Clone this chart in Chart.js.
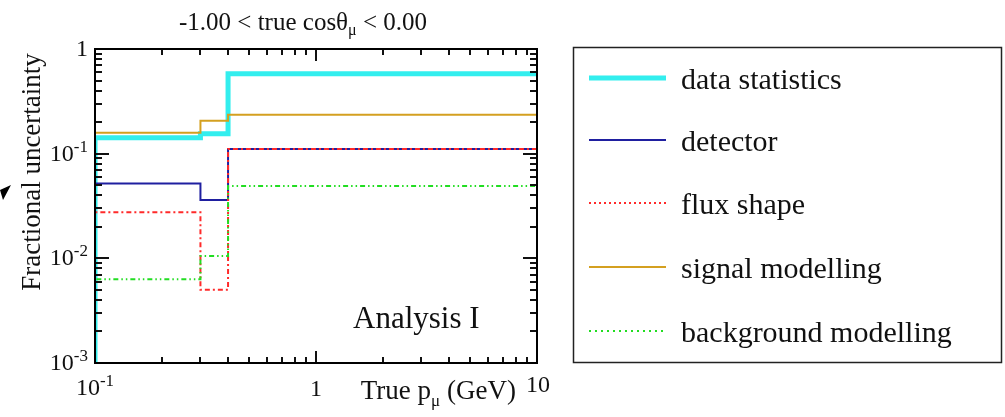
<!DOCTYPE html>
<html>
<head>
<meta charset="utf-8">
<script src="https://cdn.jsdelivr.net/npm/chart.js@4.4.0/dist/chart.umd.min.js"></script>
<style>
  html, body { margin: 0; padding: 0; background: #fff; }
  #chart { display: block; }
</style>
</head>
<body>
<canvas id="chart" width="1005" height="417"></canvas>
<script>
// bin edges in true muon momentum (GeV) and fractional uncertainty per bin
const binEdges = [0.1, 0.3, 0.4, 10];
const dataStatistics = [0.142, 0.155, 0.58];
const detector = [0.052, 0.036, 0.111];
const fluxShape = [0.0275, 0.005, 0.111];
const signalModelling = [0.158, 0.206, 0.236];
const backgroundModelling = [0.0063, 0.0105, 0.049];

const seriesLabels = ["data statistics", "detector", "flux shape", "signal modelling", "background modelling"];
const yTicks = [1, 0.1, 0.01, 0.001];
const xTicks = [0.1, 1, 10];

const serif = "'Liberation Serif', 'Times New Roman', serif";
const yMin = 0.001;

function steps(values) {
  let pts = [{ x: binEdges[0], y: yMin }];
  values.forEach((v, i) => pts.push({ x: binEdges[i], y: v }));
  pts.push({ x: binEdges[binEdges.length - 1], y: values[values.length - 1] });
  return pts;
}

// draw "10" with a superscript exponent
function drawPow(ctx, exp, x, y, align, size) {
  ctx.font = size + "px " + serif;
  let w1 = ctx.measureText("10").width;
  let small = Math.round(size * 0.7);
  ctx.font = small + "px " + serif;
  let w2 = ctx.measureText(exp).width;
  let total = w1 + w2;
  let left = x;
  if (align == "right") left = x - total;
  if (align == "center") left = x - total / 2;
  ctx.textAlign = "left";
  ctx.font = size + "px " + serif;
  ctx.fillText("10", left, y);
  ctx.font = small + "px " + serif;
  ctx.fillText(exp, left + w1, y - size * 0.38);
}

const decor = {
  id: "decor",
  afterDraw(chart) {
    const ctx = chart.ctx;
    const a = chart.chartArea;
    const xs = chart.scales.x, ys = chart.scales.y;
    ctx.save();
    ctx.setLineDash([]);
    ctx.globalAlpha = 1;
    ctx.fillStyle = "#111";
    ctx.strokeStyle = "#000";

    // ticks, inside on all four sides
    ctx.lineWidth = 2;
    for (let k = -3; k < 0; k++) {
      for (let m = 1; m <= 9; m++) {
        let py = Math.round(ys.getPixelForValue(m * Math.pow(10, k)));
        let len = m == 1 ? 14 : 7;
        ctx.fillRect(a.left, py - 1, len, 2);
        ctx.fillRect(a.right - len, py - 1, len, 2);
      }
    }
    for (let k = -1; k < 1; k++) {
      for (let m = 1; m <= 9; m++) {
        let px = Math.round(xs.getPixelForValue(m * Math.pow(10, k)));
        let len = m == 1 ? 12 : 6;
        ctx.fillRect(px - 1, a.bottom - len, 2, len);
        ctx.fillRect(px - 1, a.top, 2, len);
      }
    }

    // frame
    ctx.strokeRect(a.left, a.top, a.right - a.left, a.bottom - a.top);

    // y tick labels
    ctx.textBaseline = "alphabetic";
    yTicks.forEach(v => {
      let py = ys.getPixelForValue(v);
      if (v == 1) {
        ctx.font = "24px " + serif;
        ctx.textAlign = "right";
        ctx.fillText("1", 88, py + 7);
      } else {
        drawPow(ctx, String(Math.round(Math.log10(v))), 88, py + 7, "right", 24);
      }
    });

    // x tick labels
    xTicks.forEach(v => {
      let px = xs.getPixelForValue(v);
      if (v == 1) {
        ctx.font = "24px " + serif;
        ctx.textAlign = "center";
        ctx.fillText("1", px, a.bottom + 33);
      } else if (v == 10) {
        ctx.font = "24px " + serif;
        ctx.textAlign = "center";
        ctx.fillText("10", px + 1, a.bottom + 29);
      } else {
        drawPow(ctx, String(Math.round(Math.log10(v))), px, a.bottom + 32, "center", 24);
      }
    });

    // axis titles
    ctx.font = "27px " + serif;
    ctx.textAlign = "right";
    ctx.fillText("(GeV)", 516, a.bottom + 36);
    let wg = ctx.measureText("(GeV)").width;
    ctx.font = "17px " + serif;
    let wmu = ctx.measureText("\u03bc").width;
    ctx.textAlign = "left";
    ctx.fillText("\u03bc", 516 - wg - 7 - wmu, a.bottom + 43);
    ctx.font = "27px " + serif;
    ctx.textAlign = "right";
    ctx.fillText("True p", 516 - wg - 7 - wmu, a.bottom + 36);

    ctx.save();
    ctx.translate(40, 172);
    ctx.rotate(-Math.PI / 2);
    ctx.font = "27px " + serif;
    ctx.textAlign = "center";
    ctx.fillText("Fractional uncertainty", 0, 0);
    ctx.restore();

    // title
    ctx.font = "25px " + serif;
    ctx.textAlign = "left";
    let t1 = "-1.00 < true cos\u03b8", t2 = " < 0.00";
    let w1 = ctx.measureText(t1).width;
    let w3 = ctx.measureText(t2).width;
    ctx.font = "16px " + serif;
    let w2 = ctx.measureText("\u03bc").width;
    let tx = 303 - (w1 + w2 + w3) / 2;
    ctx.font = "25px " + serif;
    ctx.fillText(t1, tx, 30);
    ctx.fillText(t2, tx + w1 + w2, 30);
    ctx.font = "16px " + serif;
    ctx.fillText("\u03bc", tx + w1, 35);

    // label inside the plot
    ctx.font = "31px " + serif;
    ctx.textAlign = "left";
    ctx.fillText("Analysis I", 353, 328);

    // legend box
    ctx.lineWidth = 1.5;
    ctx.strokeStyle = "#222";
    ctx.strokeRect(573.5, 47.5, 428, 315);
    const rows = [78, 140, 203, 267, 331];
    chart.data.datasets.forEach((ds, r) => {
      ctx.beginPath();
      ctx.strokeStyle = ds.borderColor;
      ctx.lineWidth = ds.borderWidth;
      ctx.setLineDash(ds.legendDash || []);
      ctx.moveTo(589, rows[r]);
      ctx.lineTo(666, rows[r]);
      ctx.stroke();
      ctx.setLineDash([]);
      ctx.fillStyle = "#111";
      ctx.font = "30px " + serif;
      ctx.textAlign = "left";
      ctx.fillText(ds.label, 681, rows[r] + 11);
    });

    // stray arrow head at the left edge
    ctx.fillStyle = "#000";
    ctx.beginPath();
    ctx.moveTo(11, 185);
    ctx.lineTo(0, 190);
    ctx.lineTo(3, 200);
    ctx.closePath();
    ctx.fill();
    ctx.restore();
  }
};

new Chart(document.querySelector("#chart"), {
  type: "line",
  data: {
    datasets: [
      { label: seriesLabels[0], data: steps(dataStatistics), borderColor: "#33eeee", borderWidth: 5, order: 5 },
      { label: seriesLabels[1], data: steps(detector), borderColor: "#1f1fa0", borderWidth: 2, order: 4 },
      { label: seriesLabels[2], data: steps(fluxShape), borderColor: "#ff2a2a", borderWidth: 2, borderDash: [5, 3, 2, 3], legendDash: [2, 3], order: 2 },
      { label: seriesLabels[3], data: steps(signalModelling), borderColor: "#d4a020", borderWidth: 2, order: 3 },
      { label: seriesLabels[4], data: steps(backgroundModelling), borderColor: "#22dd22", borderWidth: 2, borderDash: [5, 3, 1.5, 3, 1.5, 3], legendDash: [2, 4], order: 1 }
    ]
  },
  options: {
    responsive: false,
    animation: false,
    devicePixelRatio: 1,
    layout: { padding: { left: 95, top: 49, right: 468, bottom: 54 } },
    elements: {
      line: { stepped: "before", tension: 0, fill: false },
      point: { radius: 0 }
    },
    scales: {
      x: { type: "logarithmic", min: 0.1, max: 10, display: false },
      y: { type: "logarithmic", min: 0.001, max: 1, display: false }
    },
    plugins: {
      legend: { display: false },
      tooltip: { enabled: false }
    }
  },
  plugins: [decor]
});
</script>
</body>
</html>
